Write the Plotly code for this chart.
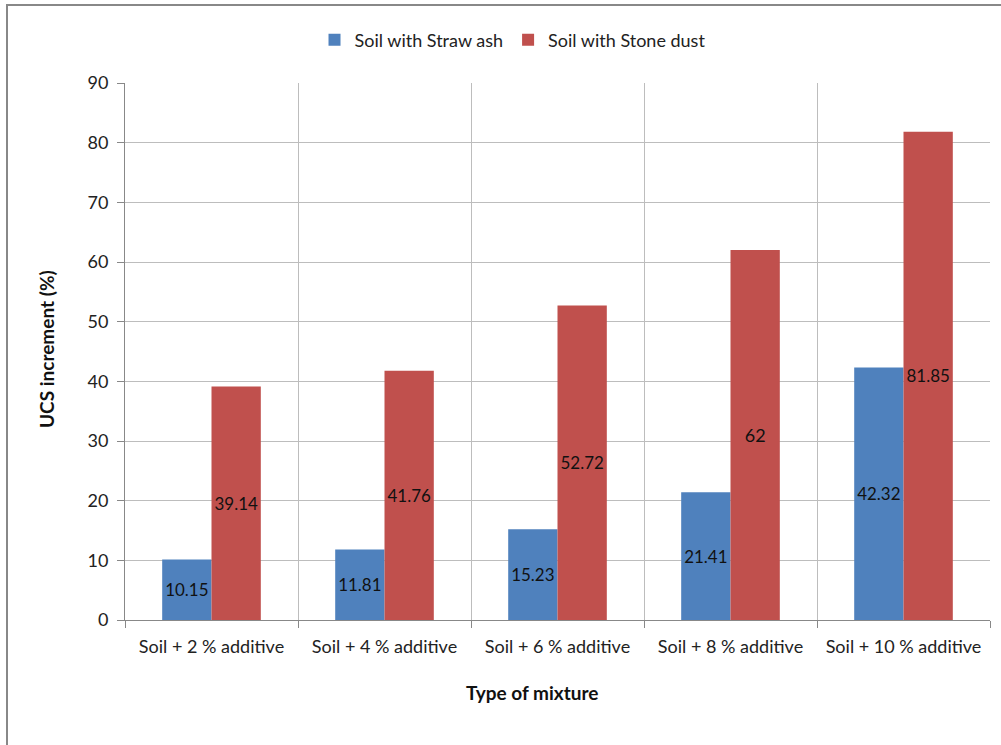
import plotly.graph_objects as go

categories = ["Soil + 2 % additive", "Soil + 4 % additive", "Soil + 6 % additive",
              "Soil + 8 % additive", "Soil + 10 % additive"]
straw_ash = [10.15, 11.81, 15.23, 21.41, 42.32]
stone_dust = [39.14, 41.76, 52.72, 62, 81.85]
straw_labels = ["10.15", "11.81", "15.23", "21.41", "42.32"]
stone_labels = ["39.14", "41.76", "52.72", "62", "81.85"]

FONT = "Lato, 'Open Sans', sans-serif"

fig = go.Figure()
fig.add_trace(go.Bar(x=categories, y=straw_ash, name="Soil with Straw ash",
                     marker=dict(color="#4F81BD", line=dict(width=0)),
                     text=straw_labels, textposition="inside", insidetextanchor="middle",
                     textangle=0, textfont=dict(color="#111111", size=18, family=FONT)))
fig.add_trace(go.Bar(x=categories, y=stone_dust, name="Soil with Stone dust",
                     marker=dict(color="#C0504D", line=dict(width=0)),
                     text=stone_labels, textposition="inside", insidetextanchor="middle",
                     textangle=0, textfont=dict(color="#111111", size=18, family=FONT)))

fig.update_layout(
    width=1001, height=745,
    paper_bgcolor="white", plot_bgcolor="white",
    margin=dict(l=125, r=11, t=83, b=125, autoexpand=False),
    barmode="group", bargap=0.43, bargroupgap=0,
    font=dict(family=FONT, size=18, color="#222222"),
    legend=dict(orientation="h", xref="container", yref="container",
                x=0.512, xanchor="center", y=1 - 40 / 745, yanchor="middle",
                font=dict(size=18, family=FONT), itemwidth=30, traceorder="normal"),
    xaxis=dict(showgrid=True, gridcolor="#bdbdbd", gridwidth=1, tickson="boundaries",
               ticks="outside", ticklen=7, tickcolor="#888888", automargin=False,
               showline=True, linecolor="#888888", linewidth=1, ticklabelstandoff=10,
               tickfont=dict(size=18, family=FONT, color="#222222")),
    yaxis=dict(range=[0, 90], dtick=10, showgrid=True, gridcolor="#bdbdbd", gridwidth=1,
               ticks="outside", ticklen=7, tickcolor="#888888", automargin=False,
               showline=True, linecolor="#888888", linewidth=1, zeroline=False,
               ticklabelstandoff=5,
               tickfont=dict(size=18, family=FONT, color="#222222")),
    annotations=[
        dict(text="<b>UCS increment (%)</b>", xref="paper", yref="paper",
             x=(46 - 125) / 865, y=(620 - 349) / 537, textangle=-90, showarrow=False,
             font=dict(size=19, family=FONT, color="#111111"),
             xanchor="center", yanchor="middle"),
        dict(text="<b>Type of mixture</b>", xref="paper", yref="paper",
             x=(532 - 125) / 865, y=(620 - 692) / 537, showarrow=False,
             font=dict(size=19, family=FONT, color="#111111"),
             xanchor="center", yanchor="middle"),
    ],
    shapes=[
        dict(type="rect", xref="paper", yref="paper",
             x0=(7 - 125) / 865, x1=(1020 - 125) / 865,
             y0=(620 - 770) / 537, y1=(620 - 5) / 537,
             line=dict(color="#888888", width=2), fillcolor="rgba(0,0,0,0)", layer="below"),
    ],
)

fig.write_html("out.html", config={"displayModeBar": False},
               post_script="document.body.style.margin='0';document.body.style.overflow='hidden';")
